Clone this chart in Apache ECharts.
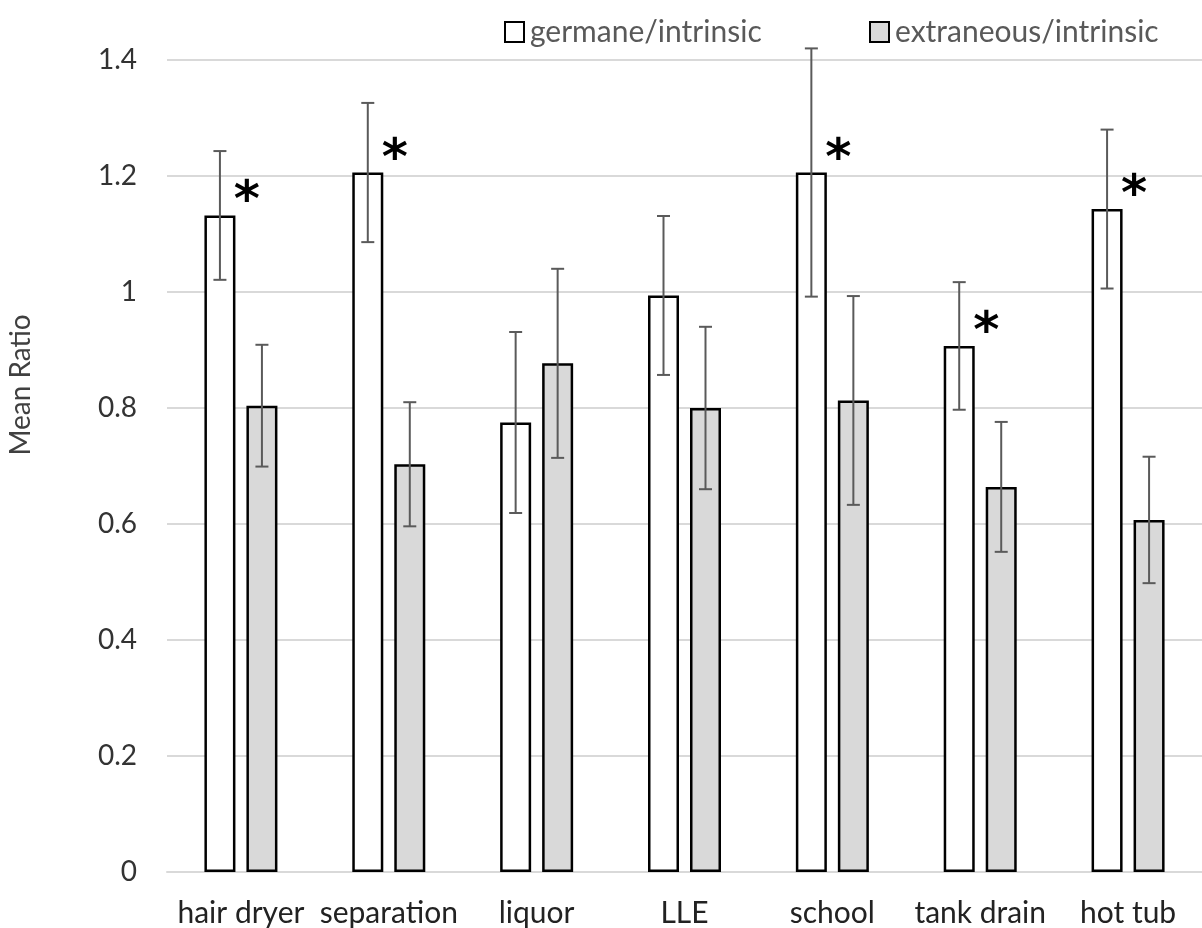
<!DOCTYPE html>
<html><head><meta charset="utf-8">
<script src="https://cdn.jsdelivr.net/npm/echarts@6/dist/echarts.min.js"></script>
<style>html,body{margin:0;padding:0;background:#fff}#c{width:1202px;height:928px}</style>
</head><body><div id="c"></div>
<script>
const categories = ['hair dryer', 'separation', 'liquor', 'LLE', 'school', 'tank drain', 'hot tub'];
const germane = [1.132, 1.206, 0.775, 0.994, 1.206, 0.907, 1.143];
const germaneErr = [0.111, 0.120, 0.156, 0.137, 0.214, 0.110, 0.137];
const extraneous = [0.804, 0.703, 0.877, 0.800, 0.813, 0.664, 0.607];
const extraneousErr = [0.105, 0.107, 0.163, 0.140, 0.180, 0.112, 0.109];
const significant = [true, true, false, false, true, true, true];
const yTicks = { min: 0, max: 1.4, interval: 0.2 };
const yAxisTitle = 'Mean Ratio';

const FONT = 'Lato';
const BAR_W = 31, GAP = 11;
const OFF = (BAR_W + GAP) / 2;

const chart = echarts.init(document.getElementById('c'), null, { renderer: 'canvas' });

function errItem(offset, vals, errs) {
  return function (params, api) {
    const i = api.value(0);
    const lo = api.coord([i, vals[i] - errs[i]]);
    const hi = api.coord([i, vals[i] + errs[i]]);
    const x = lo[0] + offset;
    const cap = 6.5;
    const st = { stroke: '#5a5a5a', lineWidth: 2 };
    return {
      type: 'group',
      children: [
        { type: 'line', shape: { x1: x, y1: lo[1], x2: x, y2: hi[1] }, style: st },
        { type: 'line', shape: { x1: x - cap, y1: lo[1], x2: x + cap, y2: lo[1] }, style: st },
        { type: 'line', shape: { x1: x - cap, y1: hi[1], x2: x + cap, y2: hi[1] }, style: st }
      ]
    };
  };
}

const legendText = { fontFamily: FONT, fontSize: 30, color: '#595959', lineHeight: 30, padding: [0, 0, 0, 1] };

const option = {
  animation: false,
  backgroundColor: '#ffffff',
  grid: { left: 167, right: -14, top: 60, bottom: 56, containLabel: false },
  graphic: [
    {
      type: 'text', x: 21, y: 385, rotation: Math.PI / 2,
      style: {
        text: yAxisTitle, fontFamily: FONT, fontSize: 28, fill: '#404040',
        align: 'center', verticalAlign: 'middle'
      }
    }
  ],
  legend: [
    {
      data: ['germane/intrinsic'], left: 499, top: 12, icon: 'rect',
      itemWidth: 19, itemHeight: 20, itemGap: 0, textStyle: legendText
    },
    {
      data: ['extraneous/intrinsic'], left: 864, top: 12, icon: 'rect',
      itemWidth: 19, itemHeight: 20, itemGap: 0, textStyle: legendText
    }
  ],
  xAxis: {
    type: 'category', data: categories,
    axisLine: { show: true, lineStyle: { color: '#d9d9d9', width: 2 } },
    axisTick: { show: false },
    axisLabel: { interval: 0, fontFamily: FONT, fontSize: 30, color: '#222', margin: 26 },
    splitLine: { show: false }
  },
  yAxis: {
    type: 'value', min: yTicks.min, max: yTicks.max, interval: yTicks.interval,
    axisLine: { show: false }, axisTick: { show: false },
    axisLabel: { fontFamily: FONT, fontSize: 28, color: '#333', margin: 30 },
    splitLine: { show: true, lineStyle: { color: '#d9d9d9', width: 2 } }
  },
  series: [
    {
      name: 'germane/intrinsic', type: 'bar', data: germane,
      barWidth: BAR_W, barGap: (GAP / BAR_W * 100) + '%',
      itemStyle: { color: '#ffffff', borderColor: '#000000', borderWidth: 2.5 },
      z: 2
    },
    {
      name: 'extraneous/intrinsic', type: 'bar', data: extraneous,
      barWidth: BAR_W,
      itemStyle: { color: '#d9d9d9', borderColor: '#000000', borderWidth: 2.5 },
      z: 2
    },
    {
      name: 'errG', type: 'custom', data: categories.map((c, i) => [i]),
      renderItem: errItem(-OFF, germane, germaneErr), z: 5, silent: true
    },
    {
      name: 'errE', type: 'custom', data: categories.map((c, i) => [i]),
      renderItem: errItem(OFF, extraneous, extraneousErr), z: 5, silent: true
    },
    {
      name: 'sig', type: 'custom', data: categories.map((c, i) => [i]),
      z: 6, silent: true,
      renderItem: function (params, api) {
        const i = api.value(0);
        if (!significant[i]) return null;
        const p = api.coord([i, germane[i]]);
        return {
          type: 'text',
          style: {
            x: p[0] + 6, y: p[1] - 12, text: '*',
            fontFamily: 'DejaVu Sans', fontWeight: 'bold', fontSize: 50,
            fill: '#000', align: 'center', verticalAlign: 'middle'
          }
        };
      }
    }
  ]
};
chart.setOption(option);
</script>
</body></html>
